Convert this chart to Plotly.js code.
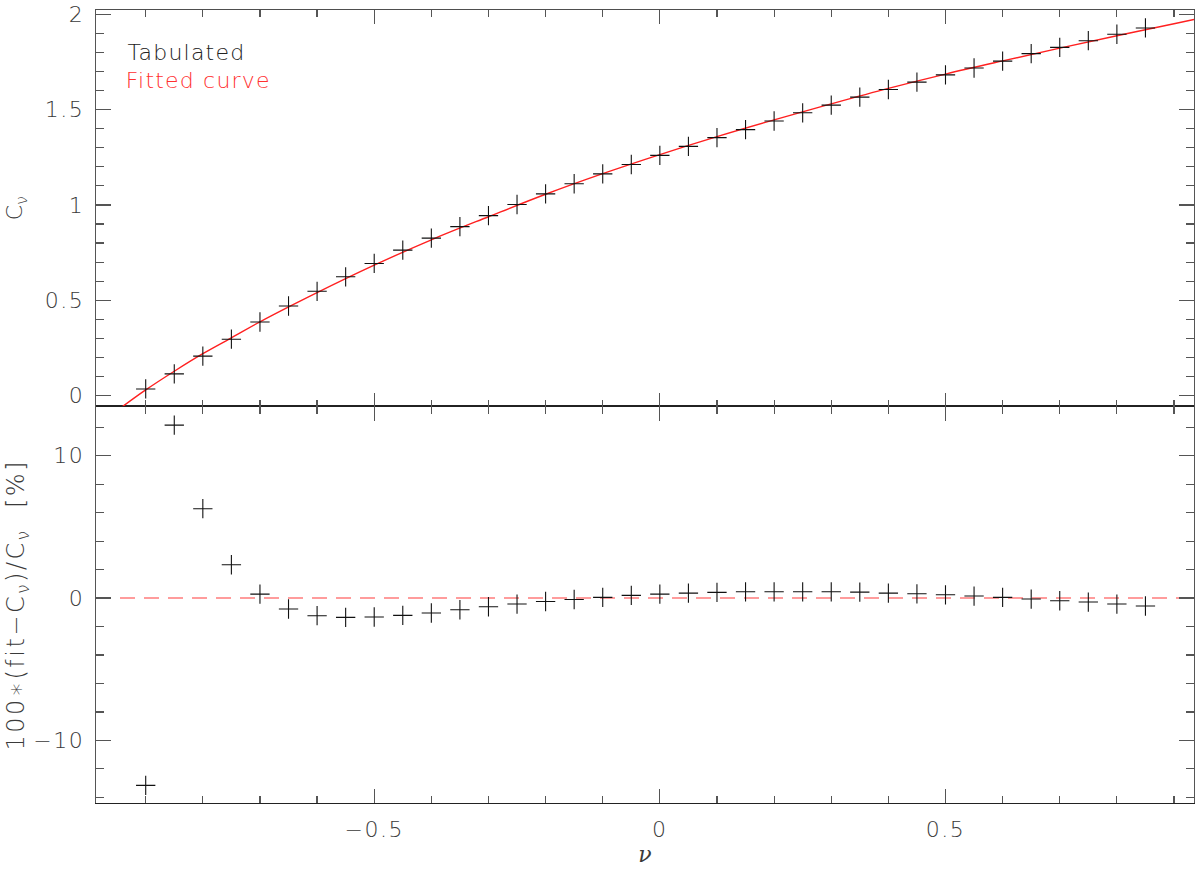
<!DOCTYPE html>
<html>
<head>
<meta charset="utf-8">
<script src="https://cdn.plot.ly/plotly-3.0.1.min.js"></script>
<style>html,body{margin:0;padding:0;background:#fff;}#chart{width:1200px;height:872px;}</style>
</head>
<body>
<div id="chart"></div>
<script>
// Tabulated points
const nu = [-0.9,-0.85,-0.8,-0.75,-0.7,-0.65,-0.6,-0.55,-0.5,-0.45,-0.4,-0.35,-0.3,-0.25,-0.2,-0.15,-0.1,-0.05,0,0.05,0.1,0.15,0.2,0.25,0.3,0.35,0.4,0.45,0.5,0.55,0.6,0.65,0.7,0.75,0.8,0.85];
const cTab = [0.035,0.114,0.207,0.296,0.386,0.470,0.547,0.623,0.693,0.763,0.826,0.886,0.944,1.002,1.058,1.111,1.163,1.212,1.260,1.307,1.353,1.395,1.440,1.483,1.523,1.565,1.605,1.644,1.682,1.718,1.754,1.793,1.826,1.861,1.895,1.928];
const resid = [-13.16,12.15,6.28,2.34,0.28,-0.77,-1.24,-1.36,-1.33,-1.22,-1.05,-0.82,-0.61,-0.42,-0.24,-0.10,0.05,0.19,0.28,0.35,0.40,0.44,0.44,0.44,0.44,0.42,0.35,0.30,0.23,0.14,0.05,-0.07,-0.19,-0.28,-0.42,-0.56];
// Fitted curve
const fitX = [-0.95,-0.9,-0.85,-0.8,-0.75,-0.7,-0.6,-0.5,-0.4,-0.3,-0.2,-0.1,0,0.1,0.2,0.3,0.4,0.5,0.6,0.7,0.8,0.9,0.935];
const fitY = [-0.078,0.030,0.128,0.220,0.303,0.387,0.540,0.684,0.817,0.938,1.056,1.164,1.264,1.358,1.446,1.530,1.611,1.686,1.755,1.822,1.887,1.950,1.972];
// Zero reference line
const zeroX = [-0.987,0.935];
const zeroY = [0,0];

const FONT = 'DejaVu Sans, sans-serif';
const AX = '#555';
const TXT = '#3a3a3a';
const tf = {family:FONT, size:22, color:TXT, weight:200};

const traces = [
  {x: fitX, y: fitY, xaxis:'x2', yaxis:'y', mode:'lines', line:{color:'#ff2020', width:1.4, shape:'spline'}, hoverinfo:'skip'},
  {x: nu, y: cTab, xaxis:'x2', yaxis:'y', mode:'markers', marker:{symbol:'cross-thin', size:13.8, line:{color:'#111', width:1.1}}},
  {x: zeroX, y: zeroY, xaxis:'x', yaxis:'y2', mode:'lines', line:{color:'rgba(255,90,90,0.8)', width:1.6, dash:'15px,9px'}},
  {x: nu, y: resid, xaxis:'x', yaxis:'y2', mode:'markers', marker:{symbol:'cross-thin', size:13.8, line:{color:'#111', width:1.1}}}
];

const xBase = {
  range:[-0.987,0.935], showgrid:false, zeroline:false,
  ticks:'inside', ticklen:14, tickwidth:1.3, tickcolor:AX,
  dtick:0.5, tick0:0, showline:true, linecolor:AX, linewidth:1.4, mirror:'ticks',
  minor:{dtick:0.1, ticks:'inside', ticklen:7, tickwidth:1.2, tickcolor:AX, showgrid:false},
  tickfont:tf
};

const layout = {
  width:1200, height:872,
  margin:{l:96, r:6, t:10, b:69},
  paper_bgcolor:'#fff', plot_bgcolor:'#fff',
  showlegend:false,
  xaxis: Object.assign({}, xBase, {
    anchor:'y2', domain:[0,1], ticklabelstandoff:6, linecolor:'#222', linewidth:1.1,
    tickvals:[-0.5,0,0.5], ticktext:['−0.5','0','0.5'],
    title:{text:'<i>ν</i>', font:{family:'DejaVu Serif, serif', size:22, color:TXT}, standoff:6}
  }),
  xaxis2: Object.assign({}, xBase, {anchor:'y', matches:'x', showticklabels:false, linecolor:'#222', linewidth:0.8}),
  yaxis: {
    domain:[0.5,1], anchor:'x2', range:[-0.057,2.022], showgrid:false, zeroline:false,
    ticks:'inside', ticklen:15, tickwidth:1.3, tickcolor:AX, tickvals:[0,0.5,1,1.5,2], ticktext:['0','0.5','1','1.5','2'],
    showline:true, linecolor:AX, linewidth:1.4, mirror:'ticks',
    minor:{dtick:0.1, ticks:'inside', ticklen:8, tickwidth:1.2, tickcolor:AX, showgrid:false},
    tickfont:tf, ticklabelstandoff:6,
    title:{text:'C<sub>ν</sub>', font:{family:FONT, size:22, color:TXT, weight:200}, standoff:20}
  },
  yaxis2: {
    domain:[0,0.5], anchor:'x', range:[-14.4,13.46], showgrid:false, zeroline:false,
    ticks:'inside', ticklen:15, tickwidth:1.3, tickcolor:AX, tickvals:[-10,0,10], ticktext:['−10','0','10'],
    showline:true, linecolor:AX, linewidth:1.4, mirror:'ticks',
    minor:{tickvals:[-14,-12,-8,-6,-4,-2,2,4,6,8,12], ticks:'inside', ticklen:8, tickwidth:1.2, tickcolor:AX, showgrid:false},
    tickfont:tf, ticklabelstandoff:6,
    title:{text:'100∗(fit−C<sub>ν</sub>)/C<sub>ν</sub>  [%]', font:{family:FONT, size:24, color:TXT, weight:200}, standoff:6}
  },
  annotations:[
    {xref:'paper', yref:'paper', x:0.032, y:0.946, xanchor:'left', yanchor:'middle', text:'Tabulated', showarrow:false, font:{family:FONT, size:22, color:'#222', weight:200}},
    {xref:'paper', yref:'paper', x:0.032, y:0.911, xanchor:'left', yanchor:'middle', text:'Fitted curve', showarrow:false, font:{family:FONT, size:22, color:'#ff3030', weight:200}}
  ]
};

Plotly.newPlot('chart', traces, layout, {displayModeBar:false, staticPlot:true}).then(function(gd){
  gd.querySelectorAll('.xtick text, .ytick text, .y2tick text').forEach(function(t){ t.style.letterSpacing = '1.5px'; });
  gd.querySelectorAll('.annotation-text').forEach(function(t){ t.style.letterSpacing = '1.2px'; });
  gd.querySelectorAll('.g-y2title text').forEach(function(t){ t.style.letterSpacing = '2.5px'; });
});
</script>
</body>
</html>
